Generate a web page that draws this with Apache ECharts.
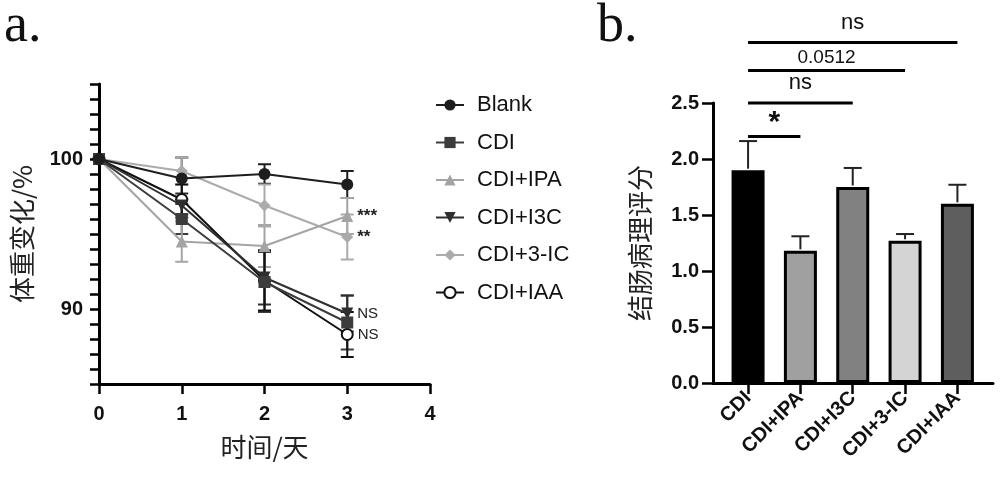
<!DOCTYPE html>
<html>
<head>
<meta charset="utf-8">
<script src="https://cdn.jsdelivr.net/npm/echarts@6/dist/echarts.min.js"></script>
<style>
html,body{margin:0;padding:0;background:#fff;}
#c{width:1000px;height:477px;}
</style>
</head>
<body>
<div id="c"></div>
<script>
// ---------- Panel a: body weight change ----------
const days = [0, 1, 2, 3];
const groupNames = ['Blank', 'CDI', 'CDI+IPA', 'CDI+I3C', 'CDI+3-IC', 'CDI+IAA'];
const blankVals = [100, 98.7, 99.0, 98.3];
const blankErr  = [0, 1.4, 0.65, 0.9];
const cdiVals   = [100, 96.0, 91.8, 89.1];
const cdiErr    = [0, 1.0, 2.0, 1.8];
const ipaVals   = [100, 94.5, 94.2, 96.2];
const ipaErr    = [0, 1.35, 1.4, 1.2];
const i3cVals   = [100, 96.9, 92.1, 89.7];
const i3cErr    = [0, 0.8, 1.8, 1.2];
const ic3Vals   = [100, 99.2, 96.9, 94.8];
const ic3Err    = [0, 0.9, 1.4, 1.5];
const iaaVals   = [100, 97.3, 91.9, 88.3];
const iaaErr    = [0, 1.0, 2.0, 1.5];
const day3Marks = ['', '', '***', 'NS', '**', 'NS'];
const weightTicksShown = [90, 100];

// ---------- Panel b: colon pathology score ----------
const barCats = ['CDI', 'CDI+IPA', 'CDI+I3C', 'CDI+3-IC', 'CDI+IAA'];
const barVals = [1.90, 1.18, 1.75, 1.27, 1.60];
const barErr  = [0.26, 0.13, 0.17, 0.06, 0.17];
const sigFrom = [0, 0, 0, 0];
const sigTo   = [1, 2, 3, 4];
const sigLevel = [2.2, 2.5, 2.79, 3.04];
const sigText = ['*', 'ns', '0.0512', 'ns'];

// ---------- styles ----------
const groupVals = [blankVals, cdiVals, ipaVals, i3cVals, ic3Vals, iaaVals];
const groupErr = [blankErr, cdiErr, ipaErr, i3cErr, ic3Err, iaaErr];
const lineColors = ['#1e1e1e', '#3c3c3c', '#a4a4a4', '#2e2e2e', '#ababab', '#111111'];
const symbols = ['circle', 'rect', 'triangle', 'triangle', 'diamond', 'emptyCircle'];
const symbolRot = [0, 0, 0, 180, 0, 0];
const symbolSizes = [12, 12, 12, 12, 12, 11];
const zOrder = [20, 12, 5, 11, 4, 8];
const barColors = ['#000000', '#a0a0a0', '#818181', '#d4d4d4', '#5e5e5e'];

const latin = 'Liberation Sans, Arial, sans-serif';
const cjk = 'Noto Sans CJK SC, sans-serif';

const series = [];

groupNames.forEach((name, gi) => {
  series.push({
    name: name,
    type: 'line',
    xAxisIndex: 0, yAxisIndex: 0,
    data: days.map((d, i) => {
      const item = { value: [d, groupVals[gi][i]] };
      if (i === days.length - 1 && day3Marks[gi]) {
        item.label = {
          show: true, position: 'right', distance: 4,
          formatter: day3Marks[gi],
          fontFamily: latin,
          fontSize: day3Marks[gi] === 'NS' ? 15 : 17,
          fontWeight: day3Marks[gi] === 'NS' ? 'normal' : 'bold',
          color: '#222'
        };
      }
      return item;
    }),
    symbol: symbols[gi],
    symbolRotate: symbolRot[gi],
    symbolSize: symbolSizes[gi],
    showAllSymbol: true,
    lineStyle: { color: lineColors[gi], width: 2 },
    itemStyle: gi === 5
      ? { color: lineColors[gi], borderWidth: 2.5 }
      : { color: lineColors[gi] },
    z: zOrder[gi],
    emphasis: { disabled: true },
    animation: false
  });
  series.push({
    name: name + '_err',
    type: 'custom',
    xAxisIndex: 0, yAxisIndex: 0,
    data: days.map((d, i) => [d, groupVals[gi][i], groupErr[gi][i]]),
    encode: { x: 0, y: 1 },
    renderItem: function (params, api) {
      const x = api.value(0), y = api.value(1), e = api.value(2);
      if (!e) return null;
      const t = api.coord([x, y + e]);
      const b = api.coord([x, y - e]);
      const hw = 6.5;
      const st = { stroke: lineColors[gi], lineWidth: 2 };
      return {
        type: 'group',
        children: [
          { type: 'line', shape: { x1: t[0], y1: t[1], x2: b[0], y2: b[1] }, style: st },
          { type: 'line', shape: { x1: t[0] - hw, y1: t[1], x2: t[0] + hw, y2: t[1] }, style: st },
          { type: 'line', shape: { x1: b[0] - hw, y1: b[1], x2: b[0] + hw, y2: b[1] }, style: st }
        ]
      };
    },
    z: 2,
    silent: true,
    animation: false
  });
});

series.push({
  name: 'score',
  type: 'bar',
  xAxisIndex: 1, yAxisIndex: 1,
  barWidth: 33,
  data: barVals.map((v, i) => ({
    value: [i, v],
    itemStyle: { color: barColors[i], borderColor: '#000', borderWidth: 3 }
  })),
  animation: false,
  emphasis: { disabled: true }
});

series.push({
  name: 'score_err',
  type: 'custom',
  xAxisIndex: 1, yAxisIndex: 1,
  data: barVals.map((v, i) => [i, v, barErr[i]]),
  encode: { x: 0, y: 1 },
  renderItem: function (params, api) {
    const x = api.value(0), y = api.value(1), e = api.value(2);
    const p = api.coord([x, y]);
    const t = api.coord([x, y + e]);
    const hw = 9;
    const st = { stroke: '#222', lineWidth: 2 };
    return {
      type: 'group',
      children: [
        { type: 'line', shape: { x1: p[0], y1: p[1] - 1.5, x2: t[0], y2: t[1] }, style: st },
        { type: 'line', shape: { x1: t[0] - hw, y1: t[1], x2: t[0] + hw, y2: t[1] }, style: st }
      ]
    };
  },
  z: 1,
  silent: true,
  animation: false
});

series.push({
  name: 'sig',
  type: 'custom',
  xAxisIndex: 1, yAxisIndex: 1,
  clip: false,
  data: sigFrom.map((f, i) => [f, sigTo[i], sigLevel[i]]),
  encode: { x: 0, y: 2 },
  renderItem: function (params, api) {
    const i = params.dataIndex;
    const a = api.coord([api.value(0), api.value(2)]);
    const b = api.coord([api.value(1), api.value(2)]);
    const txt = sigText[i];
    const isStar = txt === '*';
    const isNs = txt === 'ns';
    return {
      type: 'group',
      children: [
        { type: 'line', shape: { x1: a[0], y1: a[1], x2: b[0], y2: b[1] }, style: { stroke: '#000', lineWidth: 3 } },
        {
          type: 'text',
          style: {
            x: (a[0] + b[0]) / 2,
            y: isStar ? a[1] + 1 : (isNs ? a[1] - 9 : a[1] - 3),
            text: txt,
            align: 'center',
            verticalAlign: 'bottom',
            font: (isStar ? 'bold 30px ' : (isNs ? '22px ' : '19px ')) + latin,
            fill: '#111'
          }
        }
      ]
    };
  },
  silent: true,
  animation: false
});

const axisLineStyle = { color: '#000', width: 3 };
const tickStyle = { color: '#000', width: 2.5 };
const boldLabel = { fontFamily: latin, fontSize: 20, fontWeight: 'bold', color: '#111' };

const option = {
  backgroundColor: '#fff',
  animation: false,
  graphic: [
    { type: 'text', left: 4, top: 0, style: { text: 'a.', font: '54px Liberation Serif, Times New Roman, serif', fill: '#111' } },
    { type: 'text', left: 597, top: 0, style: { text: 'b.', font: '54px Liberation Serif, Times New Roman, serif', fill: '#111' } }
  ],
  legend: {
    data: groupNames,
    orient: 'vertical',
    left: 430,
    top: 88,
    itemWidth: 28,
    itemHeight: 14,
    itemGap: 13.5,
    textStyle: { fontFamily: latin, fontSize: 22, color: '#111', lineHeight: 24, padding: [0, 0, 0, 8] },
    selectedMode: false
  },
  grid: [
    { left: 99, top: 84, width: 331, height: 300 },
    { left: 713, top: 103, width: 280, height: 280 }
  ],
  xAxis: [
    {
      gridIndex: 0, type: 'value', min: 0, max: 4, interval: 1,
      axisLine: { lineStyle: axisLineStyle },
      axisTick: { inside: false, length: 10, lineStyle: tickStyle },
      axisLabel: Object.assign({ margin: 20 }, boldLabel),
      splitLine: { show: false },
      name: '时间/天', nameLocation: 'middle', nameGap: 50,
      nameTextStyle: { fontFamily: cjk, fontSize: 26, color: '#222' }
    },
    {
      gridIndex: 1, type: 'value', min: -0.67, max: 4.68,
      axisLine: { onZero: false, lineStyle: axisLineStyle },
      axisTick: { inside: false, length: 11, lineStyle: tickStyle, customValues: barCats.map((c, i) => i) },
      axisLabel: Object.assign({
        margin: 12, rotate: 45,
        customValues: barCats.map((c, i) => i),
        formatter: v => barCats[Math.round(v)] || ''
      }, boldLabel),
      splitLine: { show: false }
    }
  ],
  yAxis: [
    {
      gridIndex: 0, type: 'value', min: 85, max: 105, interval: 1,
      axisLine: { show: true, onZero: false, lineStyle: axisLineStyle },
      axisTick: { show: true, inside: false, length: 9, lineStyle: tickStyle },
      axisLabel: Object.assign({
        margin: 16,
        formatter: v => weightTicksShown.indexOf(v) >= 0 ? String(v) : ''
      }, boldLabel),
      splitLine: { show: false },
      name: '体重变化/%', nameLocation: 'middle', nameGap: 64,
      nameTextStyle: { fontFamily: cjk, fontSize: 26, color: '#222' }
    },
    {
      gridIndex: 1, type: 'value', min: 0, max: 2.5, interval: 0.5,
      axisLine: { show: true, onZero: false, lineStyle: axisLineStyle },
      axisTick: { show: true, inside: false, length: 11, lineStyle: tickStyle },
      axisLabel: Object.assign({ margin: 14, formatter: v => v.toFixed(1) }, boldLabel),
      splitLine: { show: false },
      name: '结肠病理评分', nameLocation: 'middle', nameGap: 60,
      nameTextStyle: { fontFamily: cjk, fontSize: 26, color: '#222' }
    }
  ],
  series: series
};

const chart = echarts.init(document.getElementById('c'), null, { renderer: 'canvas' });
chart.setOption(option);
</script>
</body>
</html>
